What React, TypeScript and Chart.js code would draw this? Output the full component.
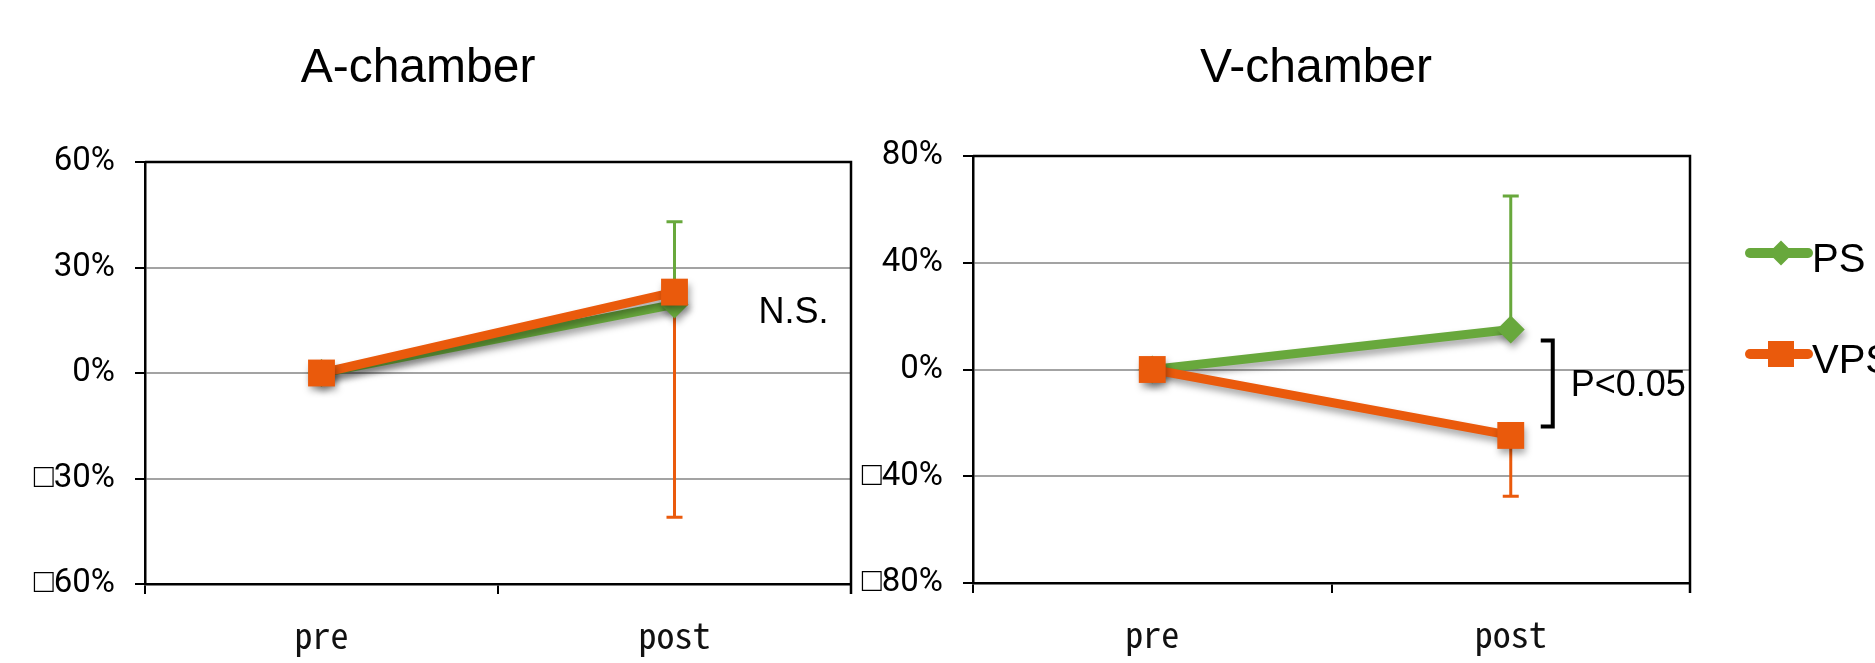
import React, { useEffect, useRef } from 'react';
import { Chart, registerables } from 'chart.js';

Chart.register(...registerables);

// ---------- data ----------
const categories = ['pre', 'post'];
const seriesNames = ['PS', 'VPS'];

// A-chamber
const aPS = [0, 19.5];
const aPSErrUp = [0, 23.5];
const aVPS = [0, 23];
const aVPSErrDown = [0, 64];
const aTickValues = [-60, -30, 0, 30, 60];
const aTickLabels = ['□60%', '□30%', '0%', '30%', '60%'];

// V-chamber
const vPS = [0, 15];
const vPSErrUp = [0, 50];
const vVPS = [0, -24.7];
const vVPSErrDown = [0, 22.8];
const vTickValues = [-80, -40, 0, 40, 80];
const vTickLabels = ['□80%', '□40%', '0%', '40%', '80%'];

// ---------- style ----------
const GREEN = '#68a83c';
const ORANGE = '#ea5a0c';
const GRID = '#a3a3a3';
const TICKFONT = "Roboto, 'Liberation Sans', sans-serif";
const SANS = "'Liberation Sans', Arial, sans-serif";
const MONO = "'Noto Sans Mono CJK JP', 'Noto Sans CJK JP', 'DejaVu Sans Mono', monospace";
const H = 663;

type Cfg = {
  title: string;
  titleX: number;
  ps: number[];
  psErrUp: number[];
  vps: number[];
  vpsErrDown: number[];
  tickValues: number[];
  tickLabels: string[];
  padTop: number;
  padRight: number;
  yWidth: number;
  xHeight: number;
  annotate: (chart: any) => void;
  legend: boolean;
};

function drawDiamond(ctx: CanvasRenderingContext2D, x: number, y: number, r: number, color: string) {
  ctx.beginPath();
  ctx.moveTo(x - r, y);
  ctx.lineTo(x, y - r);
  ctx.lineTo(x + r, y);
  ctx.lineTo(x, y + r);
  ctx.closePath();
  ctx.fillStyle = color;
  ctx.fill();
}

function drawSquare(ctx: CanvasRenderingContext2D, x: number, y: number, half: number, color: string) {
  ctx.fillStyle = color;
  ctx.fillRect(x - half, y - half, half * 2, half * 2);
}

function makeConfig(c: Cfg): any {
  const deco = {
    id: 'deco',
    beforeDatasetsDraw(chart: any) {
      const { ctx, scales } = chart;
      const xs = scales.x;
      const ys = scales.y;
      const bars = [
        { vals: c.ps, err: c.psErrUp, dir: 1, color: GREEN },
        { vals: c.vps, err: c.vpsErrDown, dir: -1, color: ORANGE },
      ];
      ctx.save();
      bars.forEach((b) => {
        b.vals.forEach((v, i) => {
          const e = b.err[i];
          if (!e) return;
          const x = xs.getPixelForValue(i);
          const y0 = ys.getPixelForValue(v);
          const y1 = ys.getPixelForValue(v + b.dir * e);
          ctx.strokeStyle = b.color;
          ctx.lineWidth = 3;
          ctx.beginPath();
          ctx.moveTo(x, y0);
          ctx.lineTo(x, y1);
          ctx.moveTo(x - 8, y1);
          ctx.lineTo(x + 8, y1);
          ctx.stroke();
        });
      });
      ctx.restore();
      ctx.save();
      ctx.shadowColor = 'rgba(0,0,0,0.35)';
      ctx.shadowBlur = 7;
      ctx.shadowOffsetX = 2;
      ctx.shadowOffsetY = 5;
    },
    afterDatasetsDraw(chart: any) {
      chart.ctx.restore();
    },
    afterDraw(chart: any) {
      const { ctx, chartArea } = chart;
      ctx.save();
      // frame top & right
      ctx.strokeStyle = '#000';
      ctx.lineWidth = 2.5;
      ctx.beginPath();
      ctx.moveTo(chartArea.left, chartArea.top);
      ctx.lineTo(chartArea.right, chartArea.top);
      ctx.lineTo(chartArea.right, chartArea.bottom + 10);
      ctx.stroke();
      // title
      ctx.fillStyle = '#000';
      ctx.font = `48px ${SANS}`;
      ctx.textAlign = 'center';
      ctx.textBaseline = 'alphabetic';
      ctx.fillText(c.title, c.titleX, 82);
      ctx.restore();
      ctx.save();
      c.annotate(chart);
      ctx.restore();
      if (c.legend) {
        ctx.save();
        const lx = chartArea.right + 60;
        const items = [
          { name: seriesNames[0], color: GREEN, y: 253, kind: 'diamond' },
          { name: seriesNames[1], color: ORANGE, y: 354, kind: 'square' },
        ];
        items.forEach((it) => {
          ctx.strokeStyle = it.color;
          ctx.lineWidth = 10;
          ctx.lineCap = 'round';
          ctx.beginPath();
          ctx.moveTo(lx, it.y);
          ctx.lineTo(lx + 58, it.y);
          ctx.stroke();
          if (it.kind === 'diamond') drawDiamond(ctx, lx + 31, it.y, 12.5, it.color);
          else drawSquare(ctx, lx + 31, it.y, 13, it.color);
          ctx.fillStyle = '#000';
          ctx.font = `40px ${SANS}`;
          ctx.textAlign = 'left';
          ctx.textBaseline = 'alphabetic';
          ctx.fillText(it.name, lx + 62, it.y + 19);
        });
        ctx.restore();
      }
    },
  };

  const minV = c.tickValues[0];
  const maxV = c.tickValues[c.tickValues.length - 1];
  const step = c.tickValues[1] - c.tickValues[0];

  return {
    type: 'line',
    data: {
      labels: categories,
      datasets: [
        {
          label: seriesNames[0],
          data: c.ps,
          borderColor: GREEN,
          backgroundColor: GREEN,
          borderWidth: 9,
          pointStyle: 'rectRot',
          pointRadius: 14,
          pointBorderWidth: 0,
          order: 1,
        },
        {
          label: seriesNames[1],
          data: c.vps,
          borderColor: ORANGE,
          backgroundColor: ORANGE,
          borderWidth: 9,
          pointStyle: 'rect',
          pointRadius: 19,
          pointBorderWidth: 0,
          order: 0,
        },
      ],
    },
    options: {
      responsive: false,
      animation: false,
      devicePixelRatio: 1,
      layout: { padding: { left: 0, top: c.padTop, right: c.padRight, bottom: 0 } },
      plugins: {
        legend: { display: false },
        title: { display: false },
        tooltip: { enabled: false },
      },
      scales: {
        x: {
          type: 'category',
          offset: true,
          grid: {
            offset: true,
            drawOnChartArea: false,
            tickLength: 10,
            color: '#000',
            lineWidth: 2,
          },
          border: { display: true, color: '#000', width: 2.5 },
          ticks: {
            font: { family: MONO, size: 36, weight: 300 },
            color: '#111',
            padding: 20,
            maxRotation: 0,
            autoSkip: false,
          },
          afterFit: (s: any) => {
            s.height = c.xHeight;
          },
        },
        y: {
          min: minV,
          max: maxV,
          ticks: {
            stepSize: step,
            callback: (v: number) => {
              const idx = c.tickValues.indexOf(v);
              return idx >= 0 ? c.tickLabels[idx] : '';
            },
            font: { family: TICKFONT, size: 33 },
            color: '#000',
            padding: 20,
          },
          grid: {
            color: GRID,
            lineWidth: 2,
            tickLength: 10,
            tickColor: '#000',
            tickWidth: 2,
          },
          border: { display: true, color: '#000', width: 2.5 },
          afterFit: (s: any) => {
            s.width = c.yWidth;
          },
        },
      },
    },
    plugins: [deco],
  };
}

const leftCfg: Cfg = {
  title: 'A-chamber',
  titleX: 418,
  ps: aPS,
  psErrUp: aPSErrUp,
  vps: aVPS,
  vpsErrDown: aVPSErrDown,
  tickValues: aTickValues,
  tickLabels: aTickLabels,
  padTop: 162,
  padRight: 19,
  yWidth: 145,
  xHeight: 79,
  legend: false,
  annotate: (chart: any) => {
    const { ctx, scales } = chart;
    const x = scales.x.getPixelForValue(1) + 84;
    const y = scales.y.getPixelForValue(aPS[1]) + 19;
    ctx.fillStyle = '#000';
    ctx.font = `36px ${SANS}`;
    ctx.textAlign = 'left';
    ctx.textBaseline = 'alphabetic';
    ctx.fillText('N.S.', x, y);
  },
};

const rightCfg: Cfg = {
  title: 'V-chamber',
  titleX: 476,
  ps: vPS,
  psErrUp: vPSErrUp,
  vps: vVPS,
  vpsErrDown: vVPSErrDown,
  tickValues: vTickValues,
  tickLabels: vTickLabels,
  padTop: 156,
  padRight: 185,
  yWidth: 133,
  xHeight: 80,
  legend: true,
  annotate: (chart: any) => {
    const { ctx, scales } = chart;
    const bx = scales.x.getPixelForValue(1) + 42;
    const yTop = scales.y.getPixelForValue(vPS[1]) + 11;
    const yBot = scales.y.getPixelForValue(vVPS[1]) - 9;
    ctx.strokeStyle = '#000';
    ctx.lineWidth = 4;
    ctx.beginPath();
    ctx.moveTo(bx - 12, yTop);
    ctx.lineTo(bx, yTop);
    ctx.lineTo(bx, yBot);
    ctx.lineTo(bx - 12, yBot);
    ctx.stroke();
    ctx.fillStyle = '#000';
    ctx.font = `36px ${SANS}`;
    ctx.textAlign = 'left';
    ctx.textBaseline = 'alphabetic';
    ctx.fillText('P<0.05', bx + 18, (yTop + yBot) / 2 + 13);
  },
};

function ChartCanvas({ cfg, left, width }: { cfg: Cfg; left: number; width: number }) {
  const ref = useRef<HTMLCanvasElement>(null);
  useEffect(() => {
    const chart = new Chart(ref.current as HTMLCanvasElement, makeConfig(cfg));
    return () => chart.destroy();
  }, []);
  return (
    <canvas
      ref={ref}
      width={width}
      height={H}
      style={{ position: 'absolute', left, top: 0, width, height: H }}
    />
  );
}

export default function App() {
  return (
    <div
      style={{
        position: 'absolute',
        left: 0,
        top: 0,
        width: 1875,
        height: H,
        background: '#fff',
        overflow: 'hidden',
      }}
    >
      <ChartCanvas cfg={leftCfg} left={0} width={870} />
      <ChartCanvas cfg={rightCfg} left={840} width={1035} />
    </div>
  );
}
